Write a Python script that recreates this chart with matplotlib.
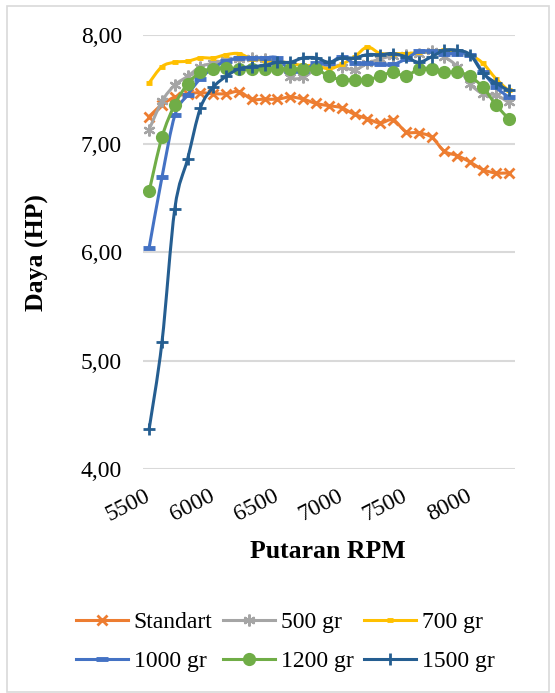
import matplotlib
matplotlib.use("Agg")
import matplotlib.pyplot as plt
from matplotlib.path import Path
from matplotlib.patches import PathPatch, Rectangle
from matplotlib.lines import Line2D

rpm = [5500, 5600, 5700, 5800, 5900, 6000, 6100, 6200, 6300, 6400,
       6500, 6600, 6700, 6800, 6900, 7000, 7100, 7200, 7300, 7400,
       7500, 7600, 7700, 7800, 7900, 8000, 8100, 8200, 8300]

standart = [7.25, 7.36, 7.43, 7.46, 7.47, 7.46, 7.46, 7.48, 7.41, 7.41,
            7.41, 7.43, 7.41, 7.37, 7.35, 7.33, 7.27, 7.23, 7.19, 7.22,
            7.11, 7.10, 7.06, 6.93, 6.89, 6.83, 6.76, 6.73, 6.73]
gr500 = [7.13, 7.39, 7.54, 7.62, 7.71, 7.74, 7.77, 7.78, 7.79, 7.78,
         7.74, 7.61, 7.61, 7.69, 7.72, 7.71, 7.68, 7.74, 7.78, 7.81,
         7.82, 7.83, 7.85, 7.80, 7.71, 7.55, 7.46, 7.45, 7.38]
gr700 = [7.56, 7.71, 7.75, 7.76, 7.79, 7.79, 7.82, 7.83, 7.78, 7.77,
         7.76, 7.74, 7.72, 7.72, 7.69, 7.73, 7.80, 7.89, 7.83, 7.83,
         7.83, 7.84, 7.85, 7.86, 7.85, 7.82, 7.74, 7.60, 7.49]
gr1000 = [6.04, 6.69, 7.26, 7.45, 7.60, 7.70, 7.76, 7.79, 7.79, 7.79,
          7.79, 7.67, 7.67, 7.74, 7.74, 7.80, 7.74, 7.74, 7.73, 7.73,
          7.78, 7.85, 7.85, 7.83, 7.83, 7.82, 7.66, 7.52, 7.43]
gr1200 = [6.56, 7.06, 7.36, 7.55, 7.66, 7.69, 7.70, 7.69, 7.69, 7.69,
          7.69, 7.69, 7.69, 7.69, 7.62, 7.59, 7.59, 7.59, 7.62, 7.66,
          7.62, 7.69, 7.69, 7.66, 7.66, 7.62, 7.52, 7.36, 7.23]
gr1500 = [4.37, 5.17, 6.40, 6.86, 7.33, 7.52, 7.62, 7.69, 7.71, 7.72,
          7.75, 7.75, 7.79, 7.79, 7.75, 7.79, 7.79, 7.82, 7.82, 7.83,
          7.80, 7.75, 7.80, 7.86, 7.86, 7.82, 7.65, 7.56, 7.49]

labels = ["Standart", "500 gr", "700 gr", "1000 gr", "1200 gr", "1500 gr"]
series = [standart, gr500, gr700, gr1000, gr1200, gr1500]
colors = ["#ED7D31", "#A5A5A5", "#FFC000", "#4472C4", "#70AD47", "#255E91"]
xticks = [5500, 6000, 6500, 7000, 7500, 8000]
yticks = [4, 5, 6, 7, 8]
ytick_labels = ["4,00", "5,00", "6,00", "7,00", "8,00"]

marker_styles = [
    dict(marker="x", markersize=7.5, markeredgewidth=2.0),
    dict(marker=(6, 2, 0), markersize=8.5, markeredgewidth=1.6),
    dict(marker="_", markersize=4.5, markeredgewidth=3.5),
    dict(marker="_", markersize=9, markeredgewidth=3.5),
    dict(marker="o", markersize=9.5, markeredgewidth=0),
    dict(marker="+", markersize=9, markeredgewidth=2.0),
]

plt.rcParams["font.family"] = ["Liberation Serif", "DejaVu Serif"]

W, H = 555, 693
fig = plt.figure(figsize=(W / 100, H / 100), dpi=100)
L, R, T, B = 142.7, 515.0, 35.1, 469.3
ax = fig.add_axes([L / W, 1 - B / H, (R - L) / W, (B - T) / H])


def smooth_path(xs, ys):
    n = len(xs)
    verts = [(xs[0], ys[0])]
    codes = [Path.MOVETO]
    for i in range(n - 1):
        x0, y0 = (xs[i - 1], ys[i - 1]) if i > 0 else (xs[i], ys[i])
        x1, y1 = xs[i], ys[i]
        x2, y2 = xs[i + 1], ys[i + 1]
        x3, y3 = (xs[i + 2], ys[i + 2]) if i + 2 < n else (xs[i + 1], ys[i + 1])
        c1 = (x1 + (x2 - x0) / 6.0, y1 + (y2 - y0) / 6.0)
        c2 = (x2 - (x3 - x1) / 6.0, y2 - (y3 - y1) / 6.0)
        verts += [c1, c2, (x2, y2)]
        codes += [Path.CURVE4] * 3
    return Path(verts, codes)


handles = []
for vals, lab, col, ms in zip(series, labels, colors, marker_styles):
    patch = PathPatch(smooth_path(rpm, vals), facecolor="none", edgecolor=col,
                      lw=2.2, capstyle="round", joinstyle="round", zorder=3)
    ax.add_patch(patch)
    ax.plot(rpm, vals, linestyle="none", color=col, markerfacecolor=col,
            markeredgecolor=col, zorder=3, **ms)
    handles.append(Line2D([], [], color=col, lw=2.2, markerfacecolor=col,
                          markeredgecolor=col, **ms))

ax.set_xlim(5450, 8350)
ax.set_ylim(4, 8)
ax.set_yticks(yticks)
ax.set_yticklabels(ytick_labels)
ax.set_xticks(xticks)
ax.set_xticklabels([str(v) for v in xticks], rotation=27, ha="right",
                   va="center", rotation_mode="anchor")
ax.tick_params(axis="both", length=0, labelsize=17)
ax.tick_params(axis="x", pad=18)
ax.tick_params(axis="y", pad=15)
ax.grid(axis="y", color="#D9D9D9", lw=1.5)
ax.set_axisbelow(True)
for s in ax.spines.values():
    s.set_visible(False)

ax.set_ylabel("Daya (HP)", fontsize=18.5, fontweight="bold", va="center")
ax.yaxis.set_label_coords((37 - L) / (R - L), 0.5)
ax.set_xlabel("Putaran RPM", fontsize=18.5, fontweight="bold", va="center")
ax.xaxis.set_label_coords((328 - L) / (R - L), (B - 552) / (B - T))

# legend filled column-wise by matplotlib, so order entries to read row-wise
order = [0, 3, 1, 4, 2, 5]
fig.legend(handles=[handles[i] for i in order],
           labels=[labels[i] for i in order], ncol=3, loc="center left",
           bbox_to_anchor=(76 / W, 1 - 642 / H), frameon=False, fontsize=17,
           handlelength=2.2, handletextpad=0.25, columnspacing=0.45,
           labelspacing=0.75, borderpad=0, borderaxespad=0)

fig.add_artist(Rectangle((7 / W, 1 - 692 / H), (549 - 7) / W, (692 - 6) / H,
                         transform=fig.transFigure, fill=False,
                         edgecolor="#D9D9D9", lw=1.2))

fig.savefig("out.png", dpi=100)
